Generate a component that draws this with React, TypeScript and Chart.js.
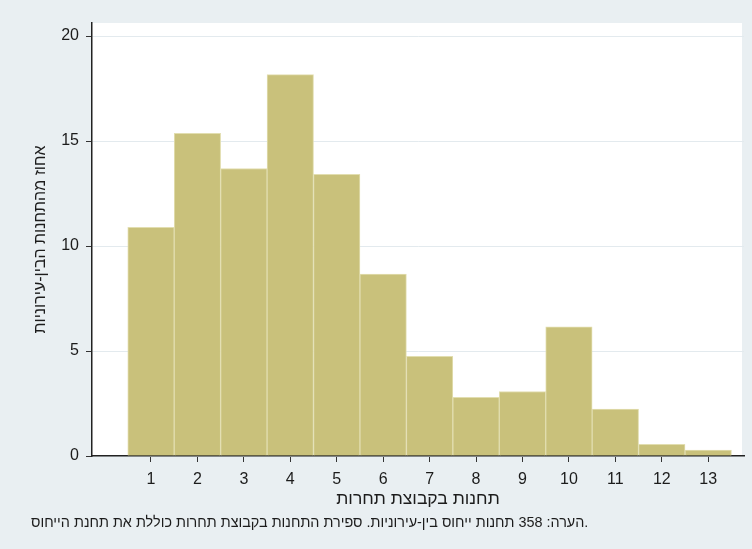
import React, { useEffect, useRef } from "react";
import { Chart, registerables } from "chart.js";

Chart.register(...registerables);

const categories = [1, 2, 3, 4, 5, 6, 7, 8, 9, 10, 11, 12, 13];
const percentValues = [10.89, 15.36, 13.69, 18.16, 13.41, 8.66, 4.75, 2.79, 3.07, 6.15, 2.23, 0.56, 0.28];
const yTicks = [0, 5, 10, 15, 20];
const yTitle = "אחוז מהתחנות הבין-עירוניות";
const xTitle = "תחנות בקבוצת תחרות";
const noteText = "הערה: 358 תחנות ייחוס בין-עירוניות. ספירת התחנות בקבוצת תחרות כוללת את תחנת הייחוס.";

const FONT = "'Liberation Sans', Arial, 'DejaVu Sans', sans-serif";
const TEXT_COLOR = "#1c1c1c";
const OUTER_BG = "#e9eff2";

const decorPlugin = {
  id: "decor",
  beforeDraw(chart: any) {
    const { ctx, chartArea, width, height } = chart;
    ctx.save();
    ctx.fillStyle = OUTER_BG;
    ctx.fillRect(0, 0, width, height);
    ctx.fillStyle = "#ffffff";
    ctx.fillRect(chartArea.left, chartArea.top, chartArea.right - chartArea.left - 2, chartArea.bottom - chartArea.top);
    ctx.restore();
  },
  afterDraw(chart: any) {
    const { ctx, chartArea } = chart;
    ctx.save();
    ctx.fillStyle = TEXT_COLOR;
    // y title
    ctx.save();
    ctx.translate(41, (chartArea.top + chartArea.bottom) / 2);
    ctx.rotate(-Math.PI / 2);
    ctx.font = `16px ${FONT}`;
    ctx.textAlign = "center";
    ctx.textBaseline = "middle";
    ctx.fillText(yTitle, 0, 0);
    ctx.restore();
    // x title
    ctx.font = `17.5px ${FONT}`;
    ctx.textAlign = "center";
    ctx.textBaseline = "middle";
    ctx.fillText(xTitle, (chartArea.left + chartArea.right) / 2, 499);
    // note
    ctx.font = `14.4px ${FONT}`;
    ctx.textAlign = "left";
    ctx.textBaseline = "middle";
    ctx.fillText(noteText, 31, 523);
    ctx.restore();
  },
};

export default function App() {
  const canvasRef = useRef<HTMLCanvasElement | null>(null);

  useEffect(() => {
    const canvas = canvasRef.current;
    if (!canvas) return;
    const chart = new Chart(canvas, {
      type: "bar",
      data: {
        datasets: [
          {
            data: categories.map((c, i) => ({ x: c, y: percentValues[i] })),
            backgroundColor: "#c9c17b",
            borderColor: "#e2deb0",
            borderWidth: 1,
            barPercentage: 1,
            categoryPercentage: 1,
          },
        ],
      },
      options: {
        animation: false,
        responsive: false,
        maintainAspectRatio: false,
        devicePixelRatio: 1,
        layout: { padding: { top: 23, right: 8, left: 0, bottom: 0 } },
        plugins: {
          legend: { display: false },
          tooltip: { enabled: false },
        },
        scales: {
          x: {
            type: "linear",
            offset: false,
            min: -0.27,
            max: 13.77,
            afterBuildTicks: (scale: any) => {
              scale.ticks = categories.map((v) => ({ value: v }));
            },
            afterFit: (scale: any) => {
              scale.height = 93;
            },
            grid: {
              offset: false,
              drawOnChartArea: false,
              drawTicks: true,
              tickLength: 6,
              color: "#333333",
              lineWidth: 1,
            },
            border: { display: true, color: "#222222", width: 1.5 },
            ticks: {
              autoSkip: false,
              maxRotation: 0,
              padding: 8,
              color: TEXT_COLOR,
              font: { family: FONT, size: 16 },
              callback: (v: any) => String(v),
            },
          },
          y: {
            type: "linear",
            min: 0,
            max: 20.62,
            afterBuildTicks: (scale: any) => {
              scale.ticks = yTicks.map((v) => ({ value: v }));
            },
            afterFit: (scale: any) => {
              scale.width = 92;
            },
            grid: {
              drawOnChartArea: true,
              drawTicks: true,
              tickLength: 6,
              color: "#e3eaee",
              tickColor: "#333333",
              lineWidth: 1,
            },
            border: { display: true, color: "#222222", width: 1.5 },
            ticks: {
              padding: 7,
              color: TEXT_COLOR,
              font: { family: FONT, size: 16 },
              callback: (v: any) => String(v),
            },
          },
        },
      },
      plugins: [decorPlugin],
    } as any);
    return () => chart.destroy();
  }, []);

  return (
    <div style={{ position: "fixed", left: 0, top: 0, width: 752, height: 549 }}>
      <canvas ref={canvasRef} width={752} height={549} style={{ width: 752, height: 549, display: "block" }} />
    </div>
  );
}
